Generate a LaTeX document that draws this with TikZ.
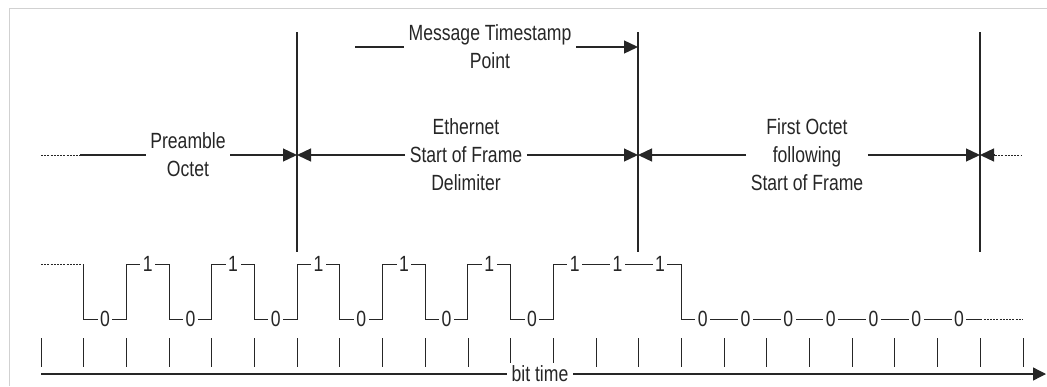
\documentclass[tikz,border=0pt]{standalone}
\usepackage{fontspec}
\setmainfont[FakeStretch=0.8]{Liberation Sans}
\usetikzlibrary{arrows.meta}
\begin{document}
\begin{tikzpicture}[x=1pt,y=-1pt,
  lbl/.style={font=\fontsize{22}{28}\selectfont, align=center, fill=white, inner ysep=3pt, inner xsep=4.5pt, text=black!85},
  bitlbl/.style={font=\fontsize{22}{22}\selectfont, fill=white, inner sep=2.5pt, text=black!85},
  dim/.style={line width=1.3pt, black!85},
  tipr/.style={-{Triangle[length=14pt,width=13pt]}},
  bound/.style={line width=1.2pt, black!85},
  wave/.style={line width=1pt, black!85},
  dotline/.style={line width=1pt, black!85, dash pattern=on 2pt off 1.2pt},
  tick/.style={line width=0.9pt, black!85},
  frame/.style={line width=1pt, black!18}]
\useasboundingbox (0,0) rectangle (1047,386);
% frame
\coordinate (fa) at (9,386);
\coordinate (fb) at (9,8);
\coordinate (fc) at (1047,8);
\draw[frame] (fa) -- (fb) -- (fc);

% boundary lines
\coordinate (b1t) at (297,32); \coordinate (b1b) at (297,252);
\coordinate (b2t) at (638,32); \coordinate (b2b) at (638,252);
\coordinate (b3t) at (980,32); \coordinate (b3b) at (980,252);
\draw[bound] (b1t) -- (b1b);
\draw[bound] (b2t) -- (b2b);
\draw[bound] (b3t) -- (b3b);
\coordinate (b1) at (297,155);
\coordinate (b2) at (638,155);
\coordinate (b3) at (980,155);
\coordinate (ts) at (638,47);

% labels
\node[lbl] (pre) at (188,155) {Preamble\\Octet};
\node[lbl] (eth) at (466,155) {Ethernet\\Start of Frame\\Delimiter};
\node[lbl] (fst) at (807,155) {First Octet\\following\\Start of Frame};
\node[lbl] (msg) at (490,47) {Message Timestamp\\Point};

% dimension lines
\coordinate (d0) at (41,155); \coordinate (d1) at (80,155);
\draw[dotline] (d0) -- (d1);
\draw[dim] (d1) -- (pre);
\draw[dim,tipr] (pre) -- (b1);
\draw[dim,tipr] (eth) -- (b1);
\draw[dim,tipr] (eth) -- (b2);
\draw[dim,tipr] (fst) -- (b2);
\draw[dim,tipr] (fst) -- (b3);
\coordinate (e1) at (995,155); \coordinate (e2) at (1022,155);
\draw[dim,tipr] (e1) -- (b3);
\draw[dotline] (e1) -- (e2);
\coordinate (m0) at (355,47);
\draw[dim] (m0) -- (msg);
\draw[dim,tipr] (msg) -- (ts);

% waveform, ticks
\begin{scope}[shift={(41,0)}, x=42.696pt]
  \foreach \i in {0,...,23} {
    \coordinate (tk\i a) at (\i,338);
    \coordinate (tk\i b) at (\i,367);
    \draw[tick] (tk\i a) -- (tk\i b);
  }
  \draw[dotline] (0,264) -- (1,264);
  \draw[wave] (1,264) -- (1,319) -- (2,319) -- (2,264) -- (3,264) -- (3,319) -- (4,319) -- (4,264)
    -- (5,264) -- (5,319) -- (6,319) -- (6,264) -- (7,264) -- (7,319) -- (8,319) -- (8,264)
    -- (9,264) -- (9,319) -- (10,319) -- (10,264) -- (11,264) -- (11,319) -- (12,319) -- (12,264)
    -- (15,264) -- (15,319) -- (22,319);
  \draw[dotline] (22,319) -- (23,319);
  \foreach \i in {1,3,5,7,9,11,15,16,17,18,19,20,21}
    \node[bitlbl] (z\i) at (\i+0.5,319) {0};
  \foreach \i in {2,4,6,8,10,12,13,14}
    \node[bitlbl] (o\i) at (\i+0.5,264) {1};
\end{scope}

% axis
\coordinate (ax0) at (41,374);
\coordinate (ax1) at (1046,374);
\draw[dim,-{Triangle[length=13pt,width=13pt]}] (ax0) -- (ax1);
\node[lbl] (bt) at (540,374) {bit time};
\end{tikzpicture}
\end{document}
